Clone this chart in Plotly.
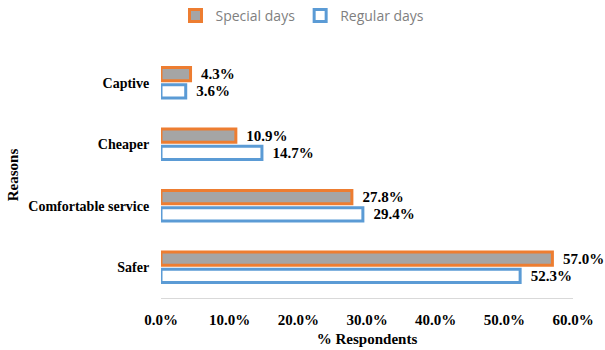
import plotly.graph_objects as go

# Reasons for choosing the service, share of respondents (%)
reasons = ["Captive", "Cheaper", "Comfortable service", "Safer"]
special_days = [4.3, 10.9, 27.8, 57.0]
regular_days = [3.6, 14.7, 29.4, 52.3]
x_ticks = [0, 10, 20, 30, 40, 50, 60]

serif = "Liberation Serif, Times New Roman, serif"
label_font = dict(family=serif, size=15, color="black")
pad = "\u00a0\u00a0"


def value_labels(values):
    return [f"{pad}<b>{v:.1f}%</b>" for v in values]


fig = go.Figure()
fig.add_trace(go.Bar(
    name="Special days", y=reasons, x=special_days, orientation="h",
    marker=dict(color="#A5A5A5", line=dict(color="#ED7D31", width=3)),
    text=value_labels(special_days), textposition="outside",
    textfont=label_font, cliponaxis=False, constraintext="none",
))
fig.add_trace(go.Bar(
    name="Regular days", y=reasons, x=regular_days, orientation="h",
    marker=dict(color="white", line=dict(color="#5B9BD5", width=3)),
    text=value_labels(regular_days), textposition="outside",
    textfont=label_font, cliponaxis=False, constraintext="none",
))

fig.update_layout(
    width=605, height=350,
    margin=dict(l=161, r=32, t=52, b=52),
    paper_bgcolor="white", plot_bgcolor="white",
    barmode="group", bargap=0.44, bargroupgap=0.22,
    legend=dict(
        orientation="h", xref="container", x=0.5, xanchor="center",
        yref="container", y=1.0, yanchor="top",
        font=dict(family="Open Sans, sans-serif", size=14, color="#7F7F7F"),
        traceorder="normal", itemwidth=30,
    ),
    xaxis=dict(
        range=[0, 60], tickvals=x_ticks,
        ticktext=[f"<b>{v:.1f}%</b>" for v in x_ticks],
        tickfont=dict(family=serif, size=15, color="black"),
        showgrid=False, zeroline=False,
        showline=True, linecolor="#D9D9D9", linewidth=1,
        ticks="outside", ticklen=8, tickcolor="rgba(0,0,0,0)",
        title=dict(text="<b>% Respondents</b>", font=dict(family=serif, size=15, color="black"), standoff=6),
        automargin=False,
    ),
    yaxis=dict(
        categoryorder="array", categoryarray=reasons, autorange="reversed",
        tickfont=dict(family=serif, size=14, color="black"),
        tickvals=reasons, ticktext=[f"<b>{r}</b>" for r in reasons],
        showgrid=False, zeroline=False, showline=False,
        ticks="outside", ticklen=8, tickcolor="rgba(0,0,0,0)",
        title=dict(text="<b>Reasons</b>", font=dict(family=serif, size=15, color="black"), standoff=6),
        automargin=False,
    ),
)

fig.write_html("out.html")
